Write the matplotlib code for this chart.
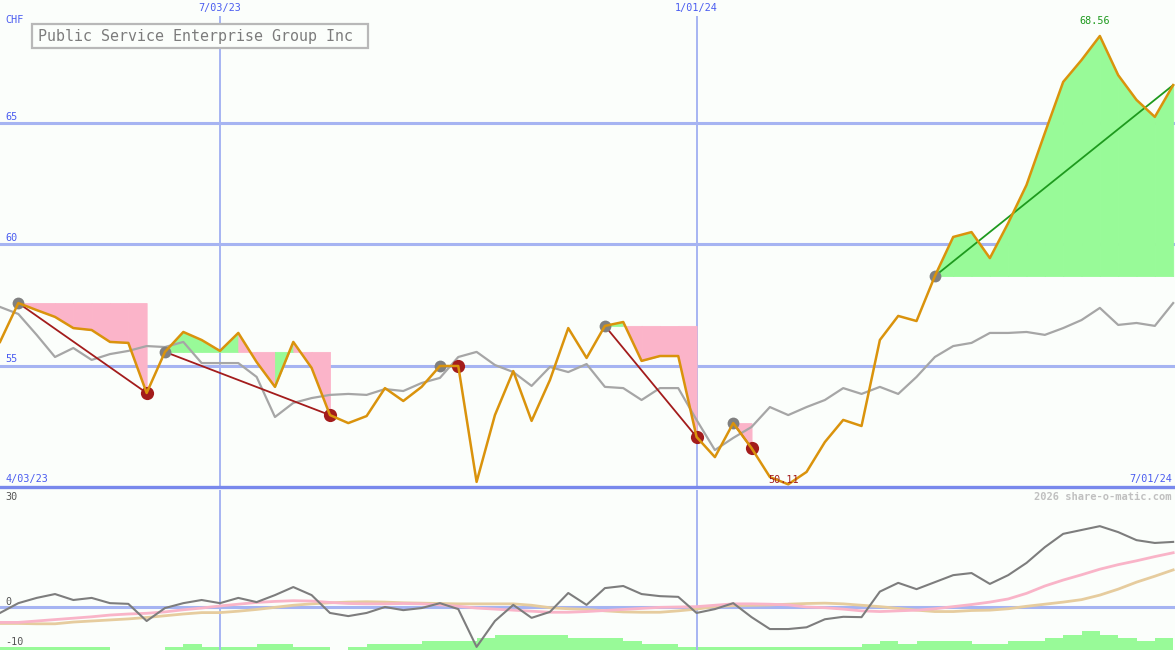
import numpy as np
import pandas as pd
import matplotlib
matplotlib.use("Agg")
import matplotlib.pyplot as plt
import matplotlib.dates as mdates
import matplotlib.transforms as mtransforms
from matplotlib.patches import Rectangle

# ---------------- data ----------------
start_date = "2023-04-10"
n_points = 65
title = "Public Service Enterprise Group Inc"
currency = "CHF"

price = [55.97, 57.57, 57.28, 57.00, 56.54, 56.46, 55.97, 55.93, 53.87, 55.56,
         56.38, 56.05, 55.60, 56.34, 55.14, 54.12, 55.97, 54.90, 52.96, 52.63,
         52.92, 54.07, 53.54, 54.12, 54.98, 54.98, 50.21, 52.96, 54.77, 52.72,
         54.40, 56.54, 55.31, 56.63, 56.79, 55.19, 55.39, 55.39, 52.06, 51.23,
         52.63, 51.60, 50.41, 50.11, 50.62, 51.85, 52.76, 52.51, 56.05, 57.04,
         56.83, 58.68, 60.29, 60.49, 59.42, 60.86, 62.43, 64.57, 66.67, 67.57,
         68.56, 66.95, 65.93, 65.23, 66.54]

avg_line = [57.41, 57.12, 56.26, 55.35, 55.72, 55.23, 55.47, 55.60, 55.80, 55.76,
            55.97, 55.10, 55.10, 55.10, 54.53, 52.88, 53.46, 53.66, 53.79, 53.83,
            53.79, 54.03, 53.95, 54.28, 54.49, 55.35, 55.56, 55.02, 54.73, 54.16,
            54.94, 54.73, 55.06, 54.12, 54.07, 53.58, 54.07, 54.07, 52.76, 51.52,
            52.02, 52.47, 53.29, 52.96, 53.29, 53.58, 54.07, 53.83, 54.12, 53.83,
            54.53, 55.35, 55.80, 55.93, 56.34, 56.34, 56.38, 56.26, 56.54, 56.87,
            57.37, 56.67, 56.75, 56.63, 57.57]

# trend segments: (start index of high, end index, direction)
trend_segments = [(1, 8, "down"), (9, 18, "down"), (24, 25, "down"),
                  (33, 38, "down"), (40, 41, "down"), (51, 64, "up")]
high_idx = [1, 9, 24, 33, 40, 51]
low_idx = [8, 18, 25, 38, 41]

momentum = [-1.7, 1.1, 2.6, 3.7, 2.0, 2.6, 1.1, 0.9, -4.0, -0.3,
            1.1, 2.0, 1.1, 2.6, 1.4, 3.4, 5.7, 3.4, -1.7, -2.6,
            -1.7, 0.0, -0.9, -0.3, 1.1, -0.6, -11.4, -4.0, 0.6, -3.1,
            -1.4, 4.0, 0.6, 5.4, 6.0, 3.7, 3.1, 2.9, -1.7, -0.6,
            1.1, -2.9, -6.3, -6.3, -5.8, -3.5, -2.8, -2.9, 4.4, 6.9,
            5.1, 7.1, 9.1, 9.7, 6.6, 9.1, 12.6, 17.1, 20.9, 22.0,
            23.1, 21.4, 19.1, 18.3, 18.6]

mom_fast = [-4.4, -4.4, -4.0, -3.6, -3.2, -2.8, -2.3, -2.0, -1.8, -1.4,
            -0.8, -0.3, 0.3, 0.8, 1.3, 1.6, 1.8, 1.7, 1.3, 1.0,
            0.9, 0.9, 1.0, 0.9, 0.6, 0.2, -0.3, -0.6, -0.9, -1.2,
            -1.5, -1.5, -1.3, -1.0, -0.7, -0.4, -0.1, 0.0, 0.1, 0.5,
            0.9, 0.9, 0.8, 0.6, 0.0, -0.2, -0.6, -1.1, -1.3, -1.1,
            -0.9, -0.5, 0.1, 0.7, 1.4, 2.3, 3.9, 6.0, 7.7, 9.2,
            10.8, 12.1, 13.2, 14.4, 15.5]

mom_slow = [-4.7, -4.7, -4.8, -4.8, -4.3, -4.0, -3.7, -3.4, -3.0, -2.5,
            -2.0, -1.6, -1.6, -1.2, -0.7, -0.1, 0.5, 0.9, 1.2, 1.4,
            1.5, 1.4, 1.2, 1.1, 1.0, 0.9, 0.9, 0.9, 0.9, 0.5,
            -0.2, -0.5, -0.7, -1.1, -1.4, -1.5, -1.5, -1.1, -0.6, 0.1,
            0.4, 0.5, 0.6, 0.8, 1.0, 1.1, 0.9, 0.5, 0.1, -0.4,
            -0.9, -1.3, -1.3, -1.0, -0.9, -0.5, 0.2, 0.8, 1.4, 2.1,
            3.4, 5.1, 7.1, 8.8, 10.6]

volume = [1, 1, 1, 1, 1, 1, 0, 0, 0, 1,
          2, 1, 1, 1, 2, 2, 1, 1, 0, 1,
          2, 2, 2, 3, 3, 3, 4, 5, 5, 5,
          5, 4, 4, 4, 3, 2, 2, 1, 1, 1,
          1, 1, 1, 1, 1, 1, 1, 2, 3, 2,
          3, 3, 3, 2, 2, 3, 3, 4, 5, 6.3,
          5, 4, 3, 4]

main_ticks = [55, 60, 65]
lower_ticks = [30, 0, -10]
vline_dates = ["2023-07-03", "2024-01-01"]
vline_labels = ["7/03/23", "1/01/24"]
range_labels = ["4/03/23", "7/01/24"]
high_label = "68.56"
low_label = "50.11"
credit = "2026 share-o-matic.com"

# ---------------- style ----------------
BG = "#fbfefb"
ORANGE = "#da930c"
GRAY = "#a6a6a6"
PINK = "#fbb4c9"
GREEN_FILL = "#98fa98"
DARKRED = "#a31c1c"
GREEN_LINE = "#1e9a1e"
GRID = "#a6b4f2"
AXIS = "#7888ec"
BLUE_TXT = "#4a5cf0"
MONO = "DejaVu Sans Mono"

W, H = 1175, 650
fig = plt.figure(figsize=(W / 100, H / 100), dpi=100, facecolor=BG)

dates = pd.date_range(start_date, periods=n_points, freq="7D")
x = mdates.date2num(dates)
week = 7.0
xlim = (x[0], x[0] + 64.1 * week)

main_top_px = 487
ax = fig.add_axes([0, 1 - main_top_px / H, 1, main_top_px / H])
ax.set_facecolor(BG)
ymin, ymax = 50.0, 50.0 + 487 / 24.3
ax.set_xlim(*xlim)
ax.set_ylim(ymin, ymax)
for s in ax.spines.values():
    s.set_visible(False)
ax.set_xticks([])
ax.set_yticks([])

axl = fig.add_axes([0, 0, 1, 160 / H])
axl.set_facecolor(BG)
axl.set_xlim(*xlim)
axl.set_ylim(-43 / 3.5, 117 / 3.5)
for s in axl.spines.values():
    s.set_visible(False)
axl.set_xticks([])
axl.set_yticks([])

# grid lines main
for t in main_ticks:
    ax.axhline(t, color=GRID, lw=2.2, zorder=0.5)
ax.axhline(50, color=AXIS, lw=2.4, zorder=6, clip_on=False)
vx = mdates.date2num(pd.to_datetime(vline_dates))
ytop_v = 50 + (487 - 16) / 24.3
for v in vx:
    ax.vlines(v, ymin, ytop_v, color=GRID, lw=1.4, zorder=0.5)
    axl.axvline(v, color=GRID, lw=1.4, zorder=2)

# fills per segment
o = np.array(price)
for s_i, e_i, d in trend_segments:
    L = o[s_i]
    for i in range(s_i, e_i):
        col = GREEN_FILL if o[i + 1] >= L - 1e-9 else PINK
        ax.fill_between(x[i:i + 2], L, o[i:i + 2], color=col, lw=0.6,
                        edgecolor=col, zorder=1)

ax.plot(x, avg_line, color=GRAY, lw=1.6, zorder=2)

for s_i, e_i, d in trend_segments:
    ax.plot([x[s_i], x[e_i]], [o[s_i], o[e_i]],
            color=DARKRED if d == "down" else GREEN_LINE, lw=1.3, zorder=3)

ax.plot(x[high_idx], o[high_idx], "o", color="#808080", ms=8.5, mew=0, zorder=4)
ax.plot(x[low_idx], o[low_idx], "o", color=DARKRED, ms=9.5, mew=0, zorder=4)
ax.plot(x, price, color=ORANGE, lw=1.8, zorder=5)

# labels on main chart
imax = int(np.argmax(o))
imin = int(np.argmin(o))
ax.annotate(high_label, (x[imax], o[imax]), xytext=(-4, 7.5), textcoords="offset points",
            ha="center", va="bottom", color=GREEN_LINE, fontsize=7.3, family=MONO, zorder=7)
ax.annotate(low_label, (x[imin], o[imin]), xytext=(-3, 3), textcoords="offset points",
            ha="center", va="center", color=DARKRED, fontsize=7.3, family=MONO, zorder=7)

tx = mtransforms.blended_transform_factory(ax.transAxes, ax.transData)
for t in main_ticks:
    ax.text(5 / W, t + 6 / 24.3, str(t), transform=tx, color=BLUE_TXT,
            fontsize=7.3, family=MONO, ha="left", va="center")
ax.text(5 / W, 1 - 20 / 487, currency, transform=ax.transAxes, color=BLUE_TXT,
        fontsize=7.3, family=MONO, ha="left", va="center")
tv = mtransforms.blended_transform_factory(ax.transData, ax.transAxes)
for v, lab in zip(vx, vline_labels):
    ax.text(v, 1 - 8 / 487, lab, transform=tv, color=BLUE_TXT, fontsize=7.3,
            family=MONO, ha="center", va="center")
ax.text(5 / W, 8 / 487, range_labels[0], transform=ax.transAxes, color=BLUE_TXT,
        fontsize=7.3, family=MONO, ha="left", va="center")
ax.text(1 - 3 / W, 8 / 487, range_labels[1], transform=ax.transAxes, color=BLUE_TXT,
        fontsize=7.3, family=MONO, ha="right", va="center")

# title box
fig.patches.append(Rectangle((32 / W, 1 - 48 / H), 336 / W, 24 / H, transform=fig.transFigure,
                             facecolor=BG, edgecolor="#b8b8b8", lw=1.6, zorder=8))
fig.text(38 / W, 1 - 36.5 / H, title, color="#7c7c7c", fontsize=10.8, family=MONO,
         ha="left", va="center", zorder=9)

# lower panel
axl.axhline(0, color=GRID, lw=2.2, zorder=1)
axb = axl.twinx()
axb.set_ylim(0, 160 / 3)
axb.set_xlim(*xlim)
for s in axb.spines.values():
    s.set_visible(False)
axb.set_yticks([])
axb.bar(x[:-1], volume, width=week, align="edge", color=GREEN_FILL, lw=0, zorder=0)
axb.set_zorder(0)
axl.set_zorder(1)
axl.patch.set_visible(False)
fig.patches.append(Rectangle((0, 0), 1, 160 / H, transform=fig.transFigure,
                             facecolor=BG, edgecolor="none", zorder=-10))

axl.plot(x, mom_slow, color="#e6cc9e", lw=2.0, zorder=3)
axl.plot(x, mom_fast, color="#f9b4c8", lw=2.0, zorder=3)
axl.plot(x, momentum, color="#7d7d7d", lw=1.5, zorder=4)

ty = mtransforms.blended_transform_factory(axl.transAxes, axl.transData)
for t, off in zip(lower_ticks, [1.4, 1.4, 0.0]):
    axl.text(5 / W, t + off, str(t), transform=ty, color="#555555", fontsize=7.3,
             family=MONO, ha="left", va="center")
axl.text(1 - 3 / W, 1 - 7 / 160, credit, transform=axl.transAxes, color="#c0c0c0",
         fontsize=7.5, family=MONO, fontweight="bold", ha="right", va="center")

fig.savefig("out.png", dpi=100, facecolor=BG)
